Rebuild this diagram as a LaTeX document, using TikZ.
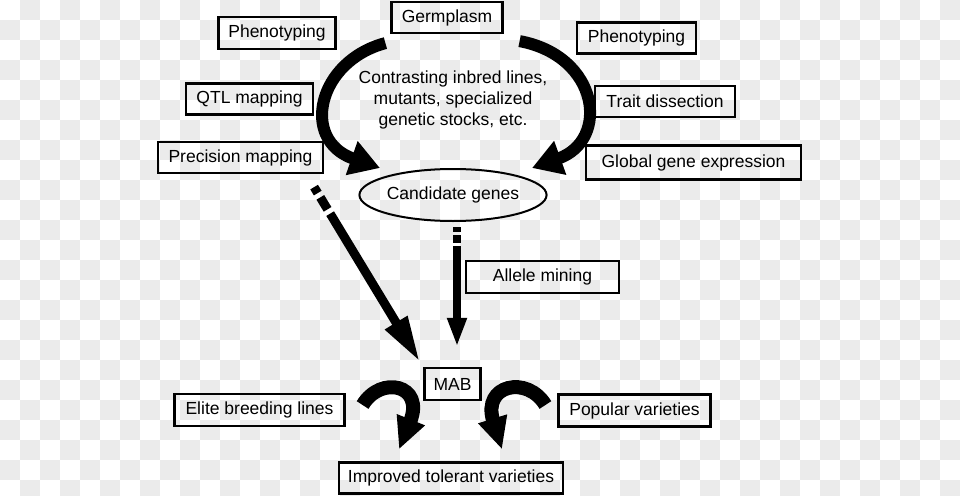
\documentclass[tikz,border=0pt]{standalone}
\usepackage{fontspec}
\setmainfont{Liberation Sans}
\usepackage{tikz}
\usetikzlibrary{arrows.meta,positioning,calc,shapes.geometric}
\definecolor{checkgray}{RGB}{235,235,235}
\tikzset{
  box/.style={draw, line width=2.2pt, align=center, inner sep=0pt, minimum height=31pt, font=\fontsize{17.5}{21}\selectfont},
  oval/.style={draw, ellipse, line width=2pt, inner sep=0pt, minimum width=170pt, minimum height=52pt, font=\fontsize{17.5}{21}\selectfont},
  plain/.style={align=center, inner sep=0pt, font=\fontsize{17.5}{21}\selectfont},
  bigarc/.style={line width=12pt, -{Triangle[length=30pt,width=34pt]}},
  smallarc/.style={line width=14pt, -{Triangle[length=32pt,width=28pt]}},
  line/.style={line width=9pt, -{Triangle[length=46pt,width=24pt]}},
  thinline/.style={line width=8pt, -{Triangle[length=29pt,width=18pt]}}
}

\begin{document}
\begin{tikzpicture}[x=1pt, y=-1pt]
  \useasboundingbox (0,0) rectangle (960,495);
  % checkered background
  \begin{scope}
    \clip (0,0) rectangle (960,495);
    \fill[white] (0,0) rectangle (960,495);
    \foreach \i in {0,...,47} {
      \foreach \j in {0,...,24} {
        \pgfmathparse{int(mod(\i+\j,2))}
        \ifnum\pgfmathresult=1 \fill[checkgray] (\i*20,\j*20) rectangle ++(20,20); \fi
      }
    }
  \end{scope}

  % upper part
  \node[box, minimum width=111pt] (germ) at (447,17.5) {Germplasm};
  \node[box, minimum width=117pt, minimum height=32pt] (phenoL) at (277,33) {Phenotyping};
  \node[box, minimum width=119pt] (phenoR) at (636.5,38) {Phenotyping};
  \node[box, minimum width=127pt] (qtl) at (249.5,99) {QTL mapping};
  \node[box, minimum width=140pt] (trait) at (665,101.5) {Trait dissection};
  \node[box, minimum width=165pt] (prec) at (240.5,157.5) {Precision mapping};
  \node[box, minimum width=215pt, minimum height=34pt] (global) at (693.5,162.5) {Global gene expression};
  \node[plain] (lines) at (453,100) {Contrasting inbred lines,\\mutants, specialized\\genetic stocks, etc.};
  \node[oval] (cand) at (453,195) {Candidate genes};

  % lower part
  \node[box, minimum width=153pt, minimum height=32pt] (allele) at (542.5,277) {Allele mining};
  \node[box, minimum width=56pt, minimum height=32pt] (mab) at (452.5,384) {MAB};
  \node[box, minimum width=170pt, minimum height=32pt] (elite) at (259.5,410) {Elite breeding lines};
  \node[box, minimum width=152pt, minimum height=32pt] (popular) at (634.5,410.5) {Popular varieties};
  \node[box, minimum width=224pt, minimum height=31pt] (improved) at (451,478) {Improved tolerant varieties};

  % arrows
  \draw[bigarc] ($(germ.south west)+(-5,9)$) .. controls +(-68,18) and +(-80,-28) .. ($(cand.north)+(-73,0)$);
  \draw[bigarc] ($(germ.south east)+(16,7)$) .. controls +(80,15) and +(78,-28) .. ($(cand.north)+(79,0)$);
  \draw[line, dash pattern=on 7pt off 5pt on 14pt off 5pt on 400pt] ($(prec.south east)+(-10,13)$) -- ($(mab.north west)+(-3.5,-5)$);
  \draw[thinline, dash pattern=on 5pt off 3pt on 8pt off 3pt on 300pt] ($(cand.south)+(4,5)$) -- ($(mab.north)+(4.5,-20)$);
  \draw[smallarc] ($(elite.east)+(17,-5)$) .. controls +(18,-30) and +(26,-65) .. ($(improved.north)+(-52,-12)$);
  \draw[smallarc] ($(popular.west)+(-12,-5.5)$) .. controls +(-18,-30) and +(-20,-65) .. ($(improved.north)+(51,-12)$);
\end{tikzpicture}
\end{document}
